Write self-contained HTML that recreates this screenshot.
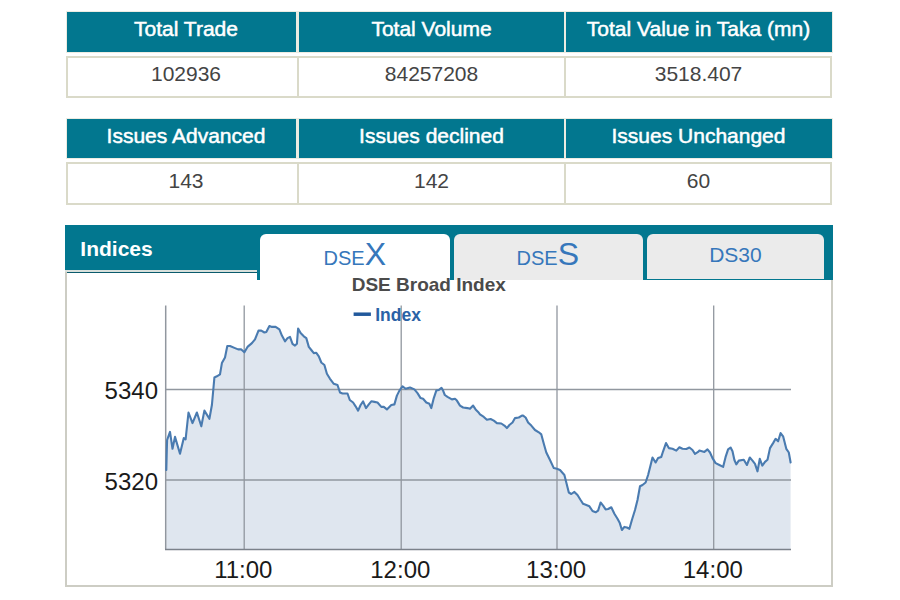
<!DOCTYPE html>
<html><head><meta charset="utf-8"><title>DSE Market Summary</title>
<style>
html,body{margin:0;padding:0;background:#fff;}
body{width:900px;height:600px;position:relative;overflow:hidden;font-family:"Liberation Sans",Arial,sans-serif;}
.t{position:absolute;width:400px;text-align:center;line-height:1;white-space:nowrap;}
.t span{line-height:0;}
.th{position:absolute;background:#02778f;}
.hf{position:absolute;background:#ecece2;}
.vr{position:absolute;box-sizing:border-box;border:2px solid #dadac9;background:#fff;}
.vs{position:absolute;width:2px;background:#dadac9;}
.hdrtxt{-webkit-text-stroke:0.5px #fff;}
#ind-bar{position:absolute;left:65px;top:224.5px;width:768px;height:45.5px;background:#02778f;}
#ind-line1{position:absolute;left:65px;top:269.75px;width:192px;height:2.3px;background:#d8e0dc;}
#ind-line2{position:absolute;left:67px;top:272px;width:190px;height:1.4px;background:#0b5a6c;}
#nav{position:absolute;left:257px;top:224.5px;width:575.7px;height:55.5px;background:#02778f;}
#panel{position:absolute;left:65px;top:266px;width:768px;height:321px;box-sizing:border-box;border:2px solid #cdcdc4;border-top:none;}
.tab{position:absolute;top:233.5px;border-radius:6px 6px 0 0;}
#tab1{left:260.3px;width:189.4px;height:49px;background:#fff;}
#tab2{left:453.7px;width:189.3px;height:46.5px;background:#ebebeb;}
#tab3{left:646.5px;width:177.8px;height:45.2px;background:#ebebeb;}
#chart{position:absolute;left:0;top:0;width:900px;height:600px;}
#chart text{font-family:"Liberation Sans",Arial,sans-serif;}
</style></head><body>
<div class="hf" style="left:66px;top:10.7px;width:766.5px;height:42.30px"></div>
<div class="th" style="left:67px;top:11.7px;width:229px;height:40.30px"></div>
<div class="th" style="left:299px;top:11.7px;width:265px;height:40.30px"></div>
<div class="th" style="left:566px;top:11.7px;width:265.5px;height:40.30px"></div>
<div class="vr" style="left:65.5px;top:55.5px;width:766.5px;height:42.50px"></div>
<div class="vs" style="left:296.5px;top:55.5px;height:42.50px"></div>
<div class="vs" style="left:564px;top:55.5px;height:42.50px"></div>
<div class="t hdrtxt" style="left:-14.00px;top:18.42px;font-size:21px;font-weight:normal;color:#fff;">Total Trade</div>
<div class="t hdrtxt" style="left:231.50px;top:18.42px;font-size:21px;font-weight:normal;color:#fff;">Total Volume</div>
<div class="t hdrtxt" style="left:498.50px;top:18.42px;font-size:21px;font-weight:normal;color:#fff;">Total Value in Taka (mn)</div>
<div class="t" style="left:-14.00px;top:63.02px;font-size:21px;font-weight:normal;color:#444444;">102936</div>
<div class="t" style="left:231.50px;top:63.02px;font-size:21px;font-weight:normal;color:#444444;">84257208</div>
<div class="t" style="left:498.50px;top:63.02px;font-size:21px;font-weight:normal;color:#444444;">3518.407</div>
<div class="hf" style="left:66px;top:117.5px;width:766.5px;height:41.30px"></div>
<div class="th" style="left:67px;top:118.5px;width:229px;height:39.30px"></div>
<div class="th" style="left:299px;top:118.5px;width:265px;height:39.30px"></div>
<div class="th" style="left:566px;top:118.5px;width:265.5px;height:39.30px"></div>
<div class="vr" style="left:65.5px;top:161.5px;width:766.5px;height:43.70px"></div>
<div class="vs" style="left:296.5px;top:161.5px;height:43.70px"></div>
<div class="vs" style="left:564px;top:161.5px;height:43.70px"></div>
<div class="t hdrtxt" style="left:-14.00px;top:125.22px;font-size:21px;font-weight:normal;color:#fff;">Issues Advanced</div>
<div class="t hdrtxt" style="left:231.50px;top:125.22px;font-size:21px;font-weight:normal;color:#fff;">Issues declined</div>
<div class="t hdrtxt" style="left:498.50px;top:125.22px;font-size:21px;font-weight:normal;color:#fff;">Issues Unchanged</div>
<div class="t" style="left:-14.00px;top:170.02px;font-size:21px;font-weight:normal;color:#444444;">143</div>
<div class="t" style="left:231.50px;top:170.02px;font-size:21px;font-weight:normal;color:#444444;">142</div>
<div class="t" style="left:498.50px;top:170.02px;font-size:21px;font-weight:normal;color:#444444;">60</div>
<div id="panel"></div>
<div id="ind-bar"></div>
<div id="ind-line1"></div>
<div id="ind-line2"></div>
<div id="nav"></div>
<div class="tab" id="tab1"></div>
<div class="tab" id="tab2"></div>
<div class="tab" id="tab3"></div>
<div class="t" style="left:-83.50px;top:238.02px;font-size:21px;font-weight:bold;color:#fff;">Indices</div>
<div class="t" style="left:154.80px;top:248.99px;font-size:19.5px;font-weight:normal;color:#3677bb;"><span style="font-size:20px">DSE</span><span style="font-size:32px">X</span></div>
<div class="t" style="left:347.80px;top:248.99px;font-size:19.5px;font-weight:normal;color:#3677bb;"><span style="font-size:20px">DSE</span><span style="font-size:32px">S</span></div>
<div class="t" style="left:535.40px;top:244.42px;font-size:21px;font-weight:normal;color:#3677bb;">DS30</div>
<svg id="chart" width="900" height="600" viewBox="0 0 900 600">
<path d="M166.3,470.0 L166.8,450.0 L167.1,440.0 L170.0,431.9 L172.5,448.8 L175.0,436.9 L180.0,453.8 L183.8,438.1 L185.6,439.4 L188.5,412.5 L192.5,423.1 L196.9,412.5 L201.3,426.3 L204.4,410.6 L209.4,418.8 L211.9,405.0 L214.4,377.5 L216.9,376.3 L220.0,374.4 L221.9,363.1 L225.0,357.5 L227.3,346.0 L230.0,346.0 L235.0,348.1 L238.1,349.4 L241.3,349.4 L244.4,352.3 L247.5,346.9 L251.9,343.1 L255.0,339.4 L258.5,330.6 L261.3,330.6 L264.4,332.5 L266.3,331.9 L269.4,326.0 L271.9,326.9 L275.6,326.9 L279.4,329.4 L281.9,335.6 L285.0,341.3 L287.5,338.1 L290.0,336.9 L292.5,343.8 L295.0,345.6 L296.9,343.8 L298.1,328.5 L300.6,333.1 L303.8,336.3 L306.3,338.1 L308.8,346.9 L311.3,350.0 L313.8,353.1 L316.3,352.8 L318.8,356.3 L321.3,362.5 L324.4,365.0 L326.9,373.8 L330.0,378.8 L333.8,383.8 L337.5,385.0 L340.0,392.5 L342.5,393.5 L347.5,393.5 L349.8,400.0 L353.1,402.5 L355.6,406.3 L358.1,410.6 L360.6,405.0 L363.1,401.3 L366.0,408.1 L368.8,404.4 L371.3,401.3 L374.4,401.9 L377.5,402.5 L381.3,406.9 L383.8,406.9 L386.9,409.4 L391.3,405.0 L394.4,404.4 L396.9,395.6 L399.4,390.6 L402.5,386.3 L405.6,388.8 L410.0,387.5 L414.4,389.4 L417.5,393.1 L420.6,398.1 L423.1,398.8 L426.3,402.5 L429.4,403.8 L431.3,408.1 L433.8,398.1 L436.3,390.6 L438.8,390.0 L441.5,387.8 L443.1,390.6 L444.8,395.0 L447.5,396.9 L451.9,399.4 L455.0,398.8 L456.9,400.6 L460.0,405.6 L463.1,407.5 L467.5,408.1 L470.0,408.8 L473.1,405.6 L475.6,409.4 L478.1,411.9 L480.0,414.4 L483.8,416.9 L486.9,419.8 L490.6,419.0 L493.8,420.6 L496.9,423.1 L501.3,423.5 L504.4,425.6 L506.9,428.1 L509.4,425.0 L512.5,422.5 L515.0,418.1 L518.8,417.5 L521.9,415.6 L523.1,415.6 L525.6,417.5 L528.1,422.5 L531.3,425.6 L535.0,430.0 L538.8,432.3 L541.3,434.4 L543.8,443.8 L546.3,452.5 L550.0,460.0 L553.8,468.1 L556.9,468.8 L560.0,470.0 L564.4,475.0 L566.3,482.5 L568.8,492.5 L571.3,494.0 L574.4,491.9 L577.5,495.0 L580.6,500.0 L583.1,503.8 L586.3,505.0 L589.4,506.3 L592.5,511.0 L595.6,512.3 L598.1,510.6 L600.6,502.5 L603.1,505.6 L605.6,509.4 L608.1,509.0 L611.3,507.3 L614.4,513.8 L617.5,518.8 L619.8,523.1 L621.9,530.0 L624.4,526.9 L626.9,527.5 L629.4,528.8 L631.9,520.0 L635.0,510.0 L637.5,500.0 L640.0,486.3 L642.5,485.0 L645.6,482.5 L648.1,475.0 L650.0,467.5 L652.5,457.5 L655.6,462.5 L658.1,458.1 L661.3,456.9 L663.1,451.3 L666.0,443.1 L668.8,448.1 L672.5,448.8 L676.3,450.6 L679.4,447.3 L682.5,448.8 L686.3,449.0 L689.4,447.5 L692.5,450.0 L695.0,453.8 L698.1,451.9 L699.4,450.6 L704.4,451.9 L707.5,449.4 L710.0,452.5 L712.5,458.1 L715.6,463.1 L719.4,465.0 L723.1,466.9 L725.6,456.9 L728.1,449.4 L730.6,447.5 L732.5,451.3 L734.4,460.0 L736.3,464.4 L738.8,460.6 L743.8,459.8 L746.9,465.0 L749.8,457.5 L752.5,460.6 L755.0,463.8 L757.5,471.3 L759.8,458.8 L762.3,465.6 L765.0,461.9 L767.5,459.8 L770.0,448.1 L773.1,443.1 L775.6,438.8 L778.1,441.3 L780.6,433.1 L783.1,436.3 L786.3,448.8 L788.8,452.5 L790.6,462.5 L790.6,549.5 L166.3,549.5 Z" fill="#dfe6ef" stroke="none"/>
<line x1="166" y1="389.5" x2="791" y2="389.5" stroke="#91979f" stroke-width="1.3"/>
<line x1="166" y1="480.0" x2="791" y2="480.0" stroke="#91979f" stroke-width="1.3"/>
<line x1="244.2" y1="305.5" x2="244.2" y2="549.5" stroke="#91979f" stroke-width="1.3"/>
<line x1="401.2" y1="305.5" x2="401.2" y2="549.5" stroke="#91979f" stroke-width="1.3"/>
<line x1="557.0" y1="305.5" x2="557.0" y2="549.5" stroke="#91979f" stroke-width="1.3"/>
<line x1="713.7" y1="305.5" x2="713.7" y2="549.5" stroke="#91979f" stroke-width="1.3"/>
<line x1="165.7" y1="305.5" x2="165.7" y2="549.5" stroke="#91979f" stroke-width="1.5"/>
<line x1="165" y1="549.5" x2="791" y2="549.5" stroke="#7b818a" stroke-width="1.6"/>
<path d="M166.3,470.0 L166.8,450.0 L167.1,440.0 L170.0,431.9 L172.5,448.8 L175.0,436.9 L180.0,453.8 L183.8,438.1 L185.6,439.4 L188.5,412.5 L192.5,423.1 L196.9,412.5 L201.3,426.3 L204.4,410.6 L209.4,418.8 L211.9,405.0 L214.4,377.5 L216.9,376.3 L220.0,374.4 L221.9,363.1 L225.0,357.5 L227.3,346.0 L230.0,346.0 L235.0,348.1 L238.1,349.4 L241.3,349.4 L244.4,352.3 L247.5,346.9 L251.9,343.1 L255.0,339.4 L258.5,330.6 L261.3,330.6 L264.4,332.5 L266.3,331.9 L269.4,326.0 L271.9,326.9 L275.6,326.9 L279.4,329.4 L281.9,335.6 L285.0,341.3 L287.5,338.1 L290.0,336.9 L292.5,343.8 L295.0,345.6 L296.9,343.8 L298.1,328.5 L300.6,333.1 L303.8,336.3 L306.3,338.1 L308.8,346.9 L311.3,350.0 L313.8,353.1 L316.3,352.8 L318.8,356.3 L321.3,362.5 L324.4,365.0 L326.9,373.8 L330.0,378.8 L333.8,383.8 L337.5,385.0 L340.0,392.5 L342.5,393.5 L347.5,393.5 L349.8,400.0 L353.1,402.5 L355.6,406.3 L358.1,410.6 L360.6,405.0 L363.1,401.3 L366.0,408.1 L368.8,404.4 L371.3,401.3 L374.4,401.9 L377.5,402.5 L381.3,406.9 L383.8,406.9 L386.9,409.4 L391.3,405.0 L394.4,404.4 L396.9,395.6 L399.4,390.6 L402.5,386.3 L405.6,388.8 L410.0,387.5 L414.4,389.4 L417.5,393.1 L420.6,398.1 L423.1,398.8 L426.3,402.5 L429.4,403.8 L431.3,408.1 L433.8,398.1 L436.3,390.6 L438.8,390.0 L441.5,387.8 L443.1,390.6 L444.8,395.0 L447.5,396.9 L451.9,399.4 L455.0,398.8 L456.9,400.6 L460.0,405.6 L463.1,407.5 L467.5,408.1 L470.0,408.8 L473.1,405.6 L475.6,409.4 L478.1,411.9 L480.0,414.4 L483.8,416.9 L486.9,419.8 L490.6,419.0 L493.8,420.6 L496.9,423.1 L501.3,423.5 L504.4,425.6 L506.9,428.1 L509.4,425.0 L512.5,422.5 L515.0,418.1 L518.8,417.5 L521.9,415.6 L523.1,415.6 L525.6,417.5 L528.1,422.5 L531.3,425.6 L535.0,430.0 L538.8,432.3 L541.3,434.4 L543.8,443.8 L546.3,452.5 L550.0,460.0 L553.8,468.1 L556.9,468.8 L560.0,470.0 L564.4,475.0 L566.3,482.5 L568.8,492.5 L571.3,494.0 L574.4,491.9 L577.5,495.0 L580.6,500.0 L583.1,503.8 L586.3,505.0 L589.4,506.3 L592.5,511.0 L595.6,512.3 L598.1,510.6 L600.6,502.5 L603.1,505.6 L605.6,509.4 L608.1,509.0 L611.3,507.3 L614.4,513.8 L617.5,518.8 L619.8,523.1 L621.9,530.0 L624.4,526.9 L626.9,527.5 L629.4,528.8 L631.9,520.0 L635.0,510.0 L637.5,500.0 L640.0,486.3 L642.5,485.0 L645.6,482.5 L648.1,475.0 L650.0,467.5 L652.5,457.5 L655.6,462.5 L658.1,458.1 L661.3,456.9 L663.1,451.3 L666.0,443.1 L668.8,448.1 L672.5,448.8 L676.3,450.6 L679.4,447.3 L682.5,448.8 L686.3,449.0 L689.4,447.5 L692.5,450.0 L695.0,453.8 L698.1,451.9 L699.4,450.6 L704.4,451.9 L707.5,449.4 L710.0,452.5 L712.5,458.1 L715.6,463.1 L719.4,465.0 L723.1,466.9 L725.6,456.9 L728.1,449.4 L730.6,447.5 L732.5,451.3 L734.4,460.0 L736.3,464.4 L738.8,460.6 L743.8,459.8 L746.9,465.0 L749.8,457.5 L752.5,460.6 L755.0,463.8 L757.5,471.3 L759.8,458.8 L762.3,465.6 L765.0,461.9 L767.5,459.8 L770.0,448.1 L773.1,443.1 L775.6,438.8 L778.1,441.3 L780.6,433.1 L783.1,436.3 L786.3,448.8 L788.8,452.5 L790.6,462.5" fill="none" stroke="#4a7bb0" stroke-width="2.1" stroke-linejoin="round" stroke-linecap="round"/>
<text x="158" y="399.2" text-anchor="end" font-size="24" fill="#1a1a1a">5340</text>
<text x="158" y="489.7" text-anchor="end" font-size="24" fill="#1a1a1a">5320</text>
<text x="243.3" y="577.5" text-anchor="middle" font-size="24" fill="#1a1a1a">11:00</text>
<text x="400.3" y="577.5" text-anchor="middle" font-size="24" fill="#1a1a1a">12:00</text>
<text x="556.1" y="577.5" text-anchor="middle" font-size="24" fill="#1a1a1a">13:00</text>
<text x="712.8" y="577.5" text-anchor="middle" font-size="24" fill="#1a1a1a">14:00</text>
<text x="428.8" y="291.3" text-anchor="middle" font-size="19" font-weight="bold" fill="#4b4b4b">DSE Broad Index</text>
<line x1="353.6" y1="314.2" x2="370.9" y2="314.2" stroke="#22599c" stroke-width="3.5"/>
<text x="375.2" y="320.6" font-size="17.5" font-weight="bold" fill="#2a62a6">Index</text>
</svg>
</body></html>
